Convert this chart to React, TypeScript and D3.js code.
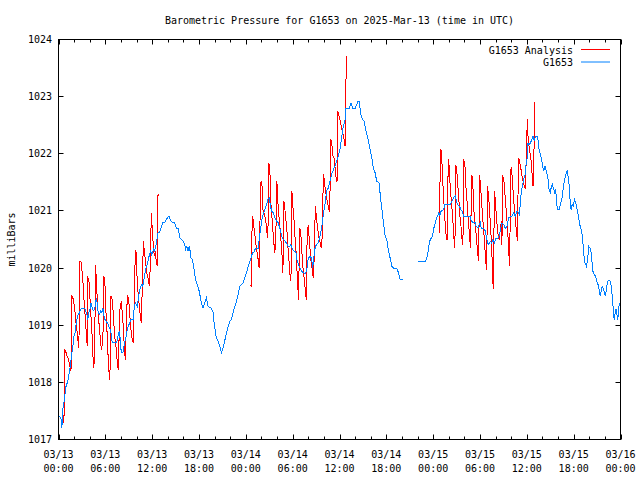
import React from "react";
import * as d3 from "d3";

const TITLE = "Barometric Pressure for G1653 on 2025-Mar-13 (time in UTC)";
const Y_LABEL = "milliBars";
const SERIES_NAMES = ["G1653 Analysis", "G1653"];
const SERIES_COLORS = ["#ff0000", "#0080ff"];
const Y_TICKS = [1017, 1018, 1019, 1020, 1021, 1022, 1023, 1024];
const START_UTC = Date.UTC(2025, 2, 13);
const SPAN_HOURS = 72;

// [hours since 2025-03-13 00:00 UTC, mb]
const obsPart1: [number, number][] = [
[0.13,1017.41],[0.34,1017.35],[0.43,1017.20],[0.56,1017.53],[0.77,1017.70],[0.90,1017.90],[1.11,1017.99],[1.28,1018.08],[1.41,1018.20],[1.54,1018.31],[1.71,1018.52],[1.84,1018.63],[1.97,1018.81],[2.14,1018.87],[2.27,1019.04],[2.40,1019.13],[2.52,1019.19],[2.70,1019.22],[2.91,1019.30],[3.34,1019.30],[3.47,1019.25],[3.59,1019.22],[3.76,1019.10],[3.89,1019.22],[4.02,1019.27],[4.15,1019.39],[4.28,1019.33],[4.45,1019.25],[4.58,1019.27],[4.71,1019.33],[4.83,1019.48],[4.96,1019.39],[5.09,1019.22],[5.26,1019.19],[5.39,1019.25],[5.56,1019.22],[5.69,1019.30],[5.82,1019.16],[5.95,1019.10],[6.12,1019.07],[6.25,1019.04],[6.37,1019.01],[6.50,1018.95],[6.63,1018.93],[6.76,1018.84],[6.89,1018.69],[7.44,1018.69],[7.61,1018.81],[7.79,1018.90],[7.91,1018.75],[8.04,1018.52],[8.26,1018.52],[8.39,1018.63],[8.56,1018.75],[8.68,1018.81],[8.81,1018.93],[8.94,1018.98],[9.11,1019.04],[9.28,1019.10],[9.58,1019.10],[9.71,1019.33],[9.84,1019.39],[9.97,1019.36],[10.10,1019.33],[10.27,1019.51],[10.40,1019.60],[10.52,1019.68],[10.65,1019.71],[10.78,1019.68],[10.91,1019.77],[11.04,1019.89],[11.17,1019.98],[11.29,1020.03],[11.42,1020.09],[11.55,1020.18],[11.68,1020.24],[11.81,1020.30],[11.94,1020.24],[12.06,1020.27],[12.19,1020.33],[12.32,1020.30],[12.45,1020.38],[12.58,1020.47],[12.75,1020.62],[12.96,1020.62],[13.18,1020.73],[13.39,1020.80],[13.60,1020.80],[13.82,1020.85],[14.03,1020.90],[14.16,1020.90],[14.33,1020.85],[14.46,1020.81],[14.89,1020.79],[15.10,1020.70],[15.32,1020.69],[15.44,1020.62],[15.57,1020.53],[15.74,1020.50],[15.96,1020.47],[16.17,1020.41],[16.30,1020.33],[16.43,1020.38],[16.60,1020.30],[16.73,1020.38],[16.86,1020.30],[16.98,1020.18],[17.16,1020.15],[17.28,1020.06],[17.41,1019.95],[17.54,1019.80],[17.71,1019.74],[17.84,1019.68],[17.97,1019.63],[18.10,1019.54],[18.31,1019.39],[18.52,1019.30],[18.74,1019.39],[18.95,1019.48],[19.17,1019.33],[19.59,1019.30],[19.81,1019.22],[19.94,1019.04],[20.11,1018.87],[20.23,1018.78],[20.45,1018.72],[20.66,1018.63],[20.88,1018.52],[21.09,1018.60],[21.22,1018.69],[21.39,1018.78],[21.52,1018.87],[21.73,1018.98],[21.95,1019.07],[22.16,1019.10],[22.37,1019.22],[22.59,1019.33],[22.80,1019.42],[23.02,1019.54],[23.23,1019.68],[23.44,1019.71],[23.66,1019.74],[23.87,1019.83],[24.09,1019.92],[24.30,1020.03],[24.51,1020.12],[24.73,1020.21],[24.86,1020.27],[25.03,1020.27],[25.15,1020.32],[25.37,1020.35],[25.58,1020.35],[25.71,1020.50],[25.88,1020.67],[26.05,1020.85],[26.22,1020.94],[26.44,1021.02],[26.65,1021.11],[26.82,1021.20],[26.99,1021.23],[27.12,1021.11],[27.29,1021.00],[27.51,1020.97],[27.72,1020.88],[27.94,1020.82],[28.15,1020.79],[28.36,1020.70],[28.58,1020.56],[28.79,1020.50],[29.01,1020.47],[29.22,1020.44],[29.43,1020.38],[29.65,1020.38],[29.78,1020.41],[29.99,1020.32],[30.20,1020.30],[30.42,1020.27],[30.59,1020.12],[30.76,1020.06],[30.93,1020.00],[31.14,1019.95],[31.36,1019.92],[31.57,1019.90],[31.79,1019.95],[32.00,1020.18],[32.21,1020.20],[32.43,1020.18],[32.56,1020.00],[32.73,1020.21],[32.90,1020.38],[33.07,1020.41],[33.28,1020.44],[33.50,1020.56],[33.71,1020.70],[33.93,1020.94],[34.14,1021.11],[34.35,1021.35],[34.57,1021.40],[34.78,1021.52],[34.99,1021.64],[35.21,1021.72],[35.42,1021.78],[35.64,1021.87],[35.85,1021.96],[36.06,1022.08],[36.28,1022.30],[36.49,1022.48],[36.71,1022.60],[36.83,1022.80],[37.26,1022.80],[37.48,1022.89],[37.69,1022.80],[38.03,1022.80],[38.20,1022.86],[38.33,1022.91],[38.55,1022.91],[38.72,1022.69],[38.93,1022.60],[39.14,1022.57],[39.32,1022.45],[39.49,1022.34],[39.66,1022.25],[39.83,1022.13],[40.00,1022.03],[40.17,1021.90],[40.34,1021.74],[40.56,1021.67],[40.77,1021.52],[41.07,1021.49],[41.28,1021.20],[41.45,1021.02],[41.63,1020.79],[41.84,1020.56],[42.05,1020.50],[42.27,1020.30],[42.48,1020.18],[42.70,1020.03],[42.91,1020.00],[43.34,1020.00],[43.55,1019.92],[43.76,1019.80],[44.19,1019.80]
];

const obsPart2: [number, number][] = [
[46.12,1020.11],[46.97,1020.11],[47.19,1020.18],[47.32,1020.27],[47.44,1020.38],[47.62,1020.50],[47.83,1020.53],[47.96,1020.59],[48.09,1020.70],[48.26,1020.79],[48.38,1020.85],[48.56,1020.91],[48.73,1020.97],[48.86,1020.91],[48.98,1020.99],[49.16,1021.01],[49.33,1021.02],[49.50,1021.11],[50.18,1021.11],[50.40,1021.17],[50.61,1021.23],[50.82,1021.26],[50.95,1021.20],[51.12,1021.11],[51.38,1021.08],[51.55,1021.02],[51.72,1020.99],[51.89,1020.91],[52.75,1020.90],[52.88,1020.82],[53.09,1020.80],[53.39,1020.79],[53.52,1020.73],[53.73,1020.70],[54.03,1020.80],[54.16,1020.70],[54.46,1020.70],[54.67,1020.65],[54.80,1020.56],[54.97,1020.44],[55.14,1020.41],[55.32,1020.47],[55.49,1020.44],[55.66,1020.50],[55.83,1020.44],[56.00,1020.51],[56.38,1020.53],[56.60,1020.65],[56.81,1020.79],[57.03,1020.76],[57.24,1020.70],[57.45,1020.73],[57.67,1020.88],[58.10,1020.91],[58.31,1020.97],[58.52,1020.91],[58.74,1020.99],[58.95,1020.97],[59.08,1020.91],[59.17,1021.20],[59.29,1021.32],[59.42,1021.43],[59.59,1021.55],[59.81,1021.64],[59.94,1021.90],[60.02,1021.90],[60.15,1022.19],[60.28,1022.16],[60.45,1022.19],[60.66,1022.25],[60.79,1022.31],[60.96,1022.22],[61.09,1022.31],[61.30,1022.31],[61.43,1022.25],[61.56,1022.08],[61.73,1021.99],[61.86,1021.93],[61.99,1021.81],[62.16,1021.70],[62.33,1021.78],[62.46,1021.72],[62.59,1021.64],[62.72,1021.55],[62.84,1021.38],[63.02,1021.32],[63.14,1021.43],[63.27,1021.46],[63.44,1021.38],[63.57,1021.32],[63.70,1021.38],[63.83,1021.11],[64.00,1021.02],[64.13,1021.02],[64.30,1021.11],[64.51,1021.23],[64.64,1021.38],[64.81,1021.52],[64.98,1021.64],[65.16,1021.70],[65.28,1021.61],[65.41,1021.46],[65.54,1021.20],[65.67,1021.02],[65.80,1021.11],[65.92,1021.08],[66.10,1021.20],[66.27,1021.14],[66.44,1021.02],[66.61,1020.91],[66.78,1020.76],[66.95,1020.68],[67.12,1020.56],[67.29,1020.24],[67.46,1020.09],[67.64,1020.03],[67.81,1020.18],[67.94,1020.38],[68.19,1020.33],[68.32,1020.15],[68.45,1019.95],[68.62,1019.89],[68.79,1019.86],[68.96,1019.77],[69.13,1019.71],[69.26,1019.63],[69.39,1019.51],[69.52,1019.60],[69.65,1019.68],[69.90,1019.60],[70.07,1019.51],[70.20,1019.63],[70.33,1019.77],[70.50,1019.79],[70.67,1019.77],[70.84,1019.68],[70.97,1019.45],[71.10,1019.25],[71.19,1019.10],[71.32,1019.22],[71.44,1019.29],[71.57,1019.16],[71.66,1019.10],[71.79,1019.33],[71.92,1019.39]
];

const analysisPart1: [number, number][] = [
[0.56,1017.29],[0.70,1017.29],[0.77,1018.57],[0.90,1018.55],[1.11,1018.46],[1.28,1018.40],[1.41,1018.31],[1.54,1018.22],[1.63,1018.25],[1.71,1019.51],[1.84,1019.48],[1.97,1019.39],[2.10,1019.27],[2.18,1019.10],[2.31,1018.98],[2.48,1018.75],[2.61,1018.60],[2.74,1020.12],[2.87,1020.12],[2.99,1019.98],[3.12,1019.80],[3.21,1019.54],[3.34,1019.33],[3.47,1019.04],[3.59,1018.81],[3.68,1018.63],[3.76,1019.83],[3.89,1019.80],[4.02,1019.51],[4.11,1019.25],[4.24,1019.01],[4.36,1018.63],[4.49,1018.25],[4.62,1018.40],[4.75,1020.06],[4.88,1019.68],[5.01,1019.36],[5.13,1019.10],[5.26,1018.95],[5.39,1018.69],[5.52,1018.57],[5.69,1018.78],[5.82,1019.86],[5.95,1019.71],[6.12,1019.10],[6.25,1018.81],[6.33,1018.52],[6.46,1018.20],[6.59,1018.05],[6.67,1019.51],[6.80,1019.51],[6.93,1019.39],[7.06,1019.10],[7.19,1018.81],[7.32,1018.69],[7.44,1018.52],[7.57,1018.28],[7.70,1018.22],[7.79,1019.10],[7.87,1019.27],[8.04,1019.42],[8.17,1019.22],[8.30,1018.98],[8.43,1018.63],[8.56,1018.40],[8.68,1018.93],[8.81,1019.51],[8.94,1019.48],[9.07,1019.33],[9.20,1019.04],[9.33,1018.87],[9.45,1018.75],[9.58,1018.69],[9.71,1019.48],[9.84,1020.30],[9.97,1020.27],[10.10,1019.68],[10.22,1019.54],[10.35,1019.33],[10.48,1019.16],[10.61,1019.04],[10.74,1019.71],[10.87,1020.47],[10.99,1020.30],[11.12,1020.15],[11.25,1020.00],[11.38,1019.86],[11.51,1019.80],[11.64,1019.68],[11.76,1020.03],[11.89,1020.97],[12.02,1020.67],[12.15,1020.38],[12.28,1020.21],[12.41,1020.30],[12.53,1020.09],[12.66,1020.03],[12.75,1021.29],[12.88,1021.26]
];

const analysisPart2: [number, number][] = [
[24.64,1019.70],[24.73,1019.68],[24.81,1020.91],[24.94,1020.85],[25.07,1020.67],[25.20,1020.53],[25.33,1020.38],[25.45,1020.27],[25.58,1020.15],[25.71,1020.00],[25.80,1020.73],[25.92,1021.49],[26.05,1021.52],[26.18,1021.02],[26.31,1020.97],[26.44,1020.91],[26.57,1020.82],[26.70,1020.62],[26.82,1020.53],[26.95,1021.84],[27.08,1021.70],[27.21,1021.14],[27.34,1020.91],[27.47,1020.65],[27.59,1020.44],[27.72,1020.27],[27.85,1020.62],[27.98,1021.52],[28.11,1021.14],[28.24,1020.91],[28.36,1020.73],[28.49,1020.50],[28.62,1020.27],[28.75,1019.92],[28.88,1021.17],[29.01,1021.02],[29.13,1020.85],[29.26,1020.67],[29.39,1020.38],[29.52,1020.15],[29.65,1019.89],[29.78,1019.77],[29.90,1021.35],[30.03,1021.08],[30.16,1020.88],[30.29,1020.56],[30.42,1020.32],[30.55,1019.97],[30.67,1019.65],[30.76,1019.45],[30.89,1020.69],[31.02,1020.67],[31.14,1020.38],[31.27,1020.06],[31.40,1019.92],[31.53,1019.74],[31.66,1019.57],[31.74,1019.44],[31.87,1020.70],[32.00,1020.73],[32.13,1020.50],[32.26,1020.27],[32.38,1020.09],[32.51,1019.97],[32.64,1019.83],[32.77,1020.21],[32.90,1021.08],[33.03,1020.91],[33.16,1020.73],[33.28,1020.62],[33.41,1020.50],[33.54,1020.44],[33.67,1020.35],[33.80,1020.59],[33.93,1021.64],[34.05,1021.55],[34.18,1021.37],[34.31,1021.26],[34.44,1021.17],[34.57,1021.08],[34.70,1020.99],[34.82,1021.49],[34.86,1022.22],[34.91,1022.25],[35.04,1022.13],[35.17,1021.96],[35.29,1021.93],[35.42,1021.78],[35.55,1021.60],[35.68,1021.50],[35.76,1022.75],[35.89,1022.69],[36.02,1022.63],[36.15,1022.54],[36.28,1022.45],[36.41,1022.37],[36.53,1022.31],[36.71,1022.13],[36.79,1022.92],[36.88,1023.71],[36.96,1023.71]
];

const analysisPart3: [number, number][] = [
[48.77,1020.62],[48.86,1021.35],[48.94,1022.07],[49.07,1022.05],[49.20,1021.58],[49.33,1021.26],[49.45,1020.97],[49.58,1020.68],[49.71,1020.50],[49.84,1020.50],[49.92,1021.90],[50.05,1021.78],[50.18,1021.43],[50.31,1021.20],[50.44,1021.00],[50.57,1020.73],[50.69,1020.47],[50.78,1020.35],[50.91,1021.80],[51.04,1021.67],[51.17,1021.43],[51.29,1021.20],[51.42,1020.91],[51.55,1020.76],[51.68,1020.53],[51.81,1020.41],[51.94,1021.87],[52.06,1021.84],[52.19,1021.43],[52.32,1021.20],[52.45,1020.94],[52.58,1020.70],[52.71,1020.47],[52.79,1020.35],[52.92,1021.62],[53.05,1021.58],[53.18,1021.11],[53.30,1020.82],[53.43,1020.70],[53.56,1020.50],[53.69,1020.27],[53.82,1020.12],[53.95,1021.62],[54.07,1021.43],[54.20,1021.17],[54.33,1020.91],[54.46,1020.68],[54.59,1020.44],[54.72,1020.15],[54.85,1019.97],[54.97,1021.43],[55.10,1021.26],[55.23,1021.02],[55.36,1020.68],[55.49,1020.44],[55.62,1019.77],[55.74,1019.63],[55.83,1021.35],[55.96,1021.20],[56.09,1020.91],[56.21,1020.73],[56.34,1020.56],[56.47,1020.50],[56.60,1020.68],[56.73,1020.82],[56.81,1020.41],[56.90,1021.61],[57.03,1021.58],[57.15,1021.38],[57.28,1021.14],[57.41,1020.91],[57.54,1020.68],[57.67,1020.33],[57.80,1020.03],[57.93,1021.73],[58.05,1021.75],[58.18,1021.46],[58.31,1021.20],[58.44,1020.97],[58.57,1020.79],[58.70,1020.59],[58.82,1020.47],[58.91,1021.91],[59.04,1021.90],[59.17,1021.78],[59.29,1021.70],[59.42,1021.58],[59.55,1021.49],[59.68,1021.43],[59.81,1021.38],[59.94,1021.99],[60.06,1022.60],[60.15,1022.31],[60.28,1022.13],[60.41,1022.02],[60.53,1021.90],[60.66,1021.67],[60.79,1021.43],[60.87,1021.55],[61.00,1022.89],[61.09,1022.89]
];

const analysisParts = [analysisPart1, analysisPart2, analysisPart3];
const obsParts = [obsPart1, obsPart2];

const W = 640;
const H = 480;
const LEFT = 58.5;
const RIGHT = 620.5;
const TOP = 39.5;
const BOTTOM = 439.5;
const FONT = "'DejaVu Sans Mono', 'Liberation Mono', monospace";

export default function App() {
  const toDate = (h: number) => new Date(START_UTC + h * 3600e3);
  const x = d3.scaleUtc().domain([toDate(0), toDate(SPAN_HOURS)]).range([LEFT, RIGHT]);
  const y = d3.scaleLinear().domain([1017, 1024]).range([BOTTOM, TOP]);
  const line = d3
    .line<[number, number]>()
    .x((d) => x(toDate(d[0])))
    .y((d) => y(d[1]));

  const minorTicks = x.ticks(d3.utcHour.every(2)!);
  const majorTicks = x.ticks(d3.utcHour.every(6)!);
  const fmtDay = d3.utcFormat("%m/%d");
  const fmtTime = d3.utcFormat("%H:%M");

  return (
    <svg
      width={W}
      height={H}
      style={{ position: "absolute", left: 0, top: 0, background: "#fff" }}
      fontFamily={FONT}
      fontSize={10}
    >
      <rect x={0} y={0} width={W} height={H} fill="#fff" />
      <text x={(LEFT + RIGHT) / 2} y={24} textAnchor="middle" fill="#000">
        {TITLE}
      </text>
      <text
        transform={`translate(15,${(TOP + BOTTOM) / 2}) rotate(-90)`}
        textAnchor="middle"
        fill="#000"
      >
        {Y_LABEL}
      </text>

      {/* x ticks */}
      {minorTicks.map((t, i) => {
        const xx = Math.round(x(t)) + 0.5;
        const isMajor = t.getUTCHours() % 6 === 0;
        const len = isMajor ? 5 : 3;
        return (
          <g key={"xt" + i} stroke="#000" strokeWidth={1}>
            <line x1={xx} x2={xx} y1={BOTTOM} y2={BOTTOM - len} />
            <line x1={xx} x2={xx} y1={TOP} y2={TOP + len} />
          </g>
        );
      })}
      {majorTicks.map((t, i) => {
        const xx = x(t);
        return (
          <g key={"xl" + i} fill="#000">
            <text x={xx} y={458} textAnchor="middle">
              {fmtDay(t)}
            </text>
            <text x={xx} y={472} textAnchor="middle">
              {fmtTime(t)}
            </text>
          </g>
        );
      })}

      {/* y ticks */}
      {Y_TICKS.map((v) => {
        const yy = Math.round(y(v) - 0.5) + 0.5;
        return (
          <g key={"yt" + v}>
            <line x1={LEFT} x2={LEFT + 5} y1={yy} y2={yy} stroke="#000" />
            <line x1={RIGHT} x2={RIGHT - 5} y1={yy} y2={yy} stroke="#000" />
            <text x={52} y={yy + 3.5} textAnchor="end" fill="#000">
              {v}
            </text>
          </g>
        );
      })}

      {/* series */}
      {analysisParts.map((p, i) => (
        <path key={"a" + i} d={line(p) || ""} fill="none" stroke={SERIES_COLORS[0]} strokeWidth={1} shapeRendering="crispEdges" />
      ))}
      {obsParts.map((p, i) => (
        <path key={"o" + i} d={line(p) || ""} fill="none" stroke={SERIES_COLORS[1]} strokeWidth={1} shapeRendering="crispEdges" />
      ))}

      {/* frame */}
      <rect
        x={LEFT}
        y={TOP}
        width={RIGHT - LEFT}
        height={BOTTOM - TOP}
        fill="none"
        stroke="#000"
        strokeWidth={1}
      />

      {/* legend */}
      {SERIES_NAMES.map((name, i) => (
        <g key={"lg" + i}>
          <text x={573} y={53.5 + i * 12.5} textAnchor="end" fill="#000">
            {name}
          </text>
          <line
            x1={581}
            x2={610}
            y1={49.5 + i * 12.5}
            y2={49.5 + i * 12.5}
            stroke={SERIES_COLORS[i]}
            strokeWidth={1}
          />
        </g>
      ))}
    </svg>
  );
}
